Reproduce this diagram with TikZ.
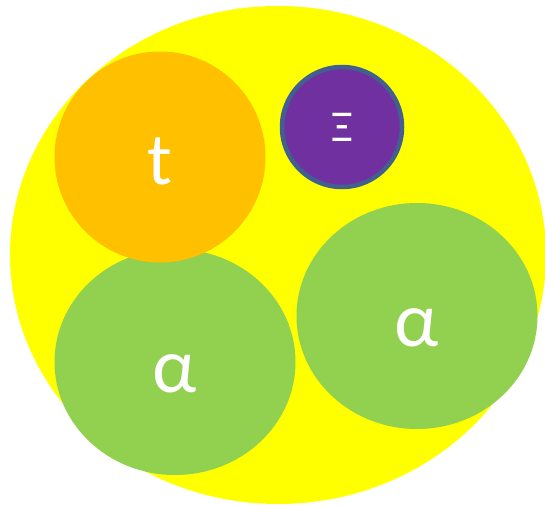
\documentclass[tikz,border=0pt]{standalone}
\usepackage{fontspec}
\setmainfont{Carlito}
\usetikzlibrary{shapes.geometric, positioning}
\definecolor{outeryellow}{RGB}{255, 255, 0}
\definecolor{torange}{RGB}{255, 192, 0}
\definecolor{alphagreen}{RGB}{146, 208, 80}
\definecolor{xipurple}{RGB}{112, 48, 160}
\definecolor{xiborder}{RGB}{65, 96, 143}
\tikzstyle{blob} = [ellipse, inner sep=0pt, text=white, text centered]
\tikzstyle{outer} = [blob, fill=outeryellow, minimum width=536pt, minimum height=498pt]
\tikzstyle{quark} = [blob, fill=torange, minimum width=211pt, minimum height=211pt, text height=55pt, font=\fontsize{74}{74}\selectfont]
\tikzstyle{cluster} = [blob, fill=alphagreen, minimum width=241pt, minimum height=226pt, text height=62pt, font=\fontsize{78}{78}\selectfont]
\tikzstyle{hyperon} = [blob, fill=xipurple, draw=xiborder, line width=4.5pt, minimum width=120pt, minimum height=120pt, font=\fontsize{44}{44}\selectfont]

\begin{document}
\begin{tikzpicture}[x=1pt, y=-1pt]
    \useasboundingbox (0,0) rectangle (545,505);
    % Nodes
    \node (nucleus) [outer] at (278,255) {};
    \node (alphaL) [cluster] at (175,362) {α};
    \node (alphaR) [cluster] at (417,316) {α};
    \node (top) [quark] at (160,157) {t};
    \node (xi) [hyperon] at (342,127) {Ξ};
\end{tikzpicture}
\end{document}
